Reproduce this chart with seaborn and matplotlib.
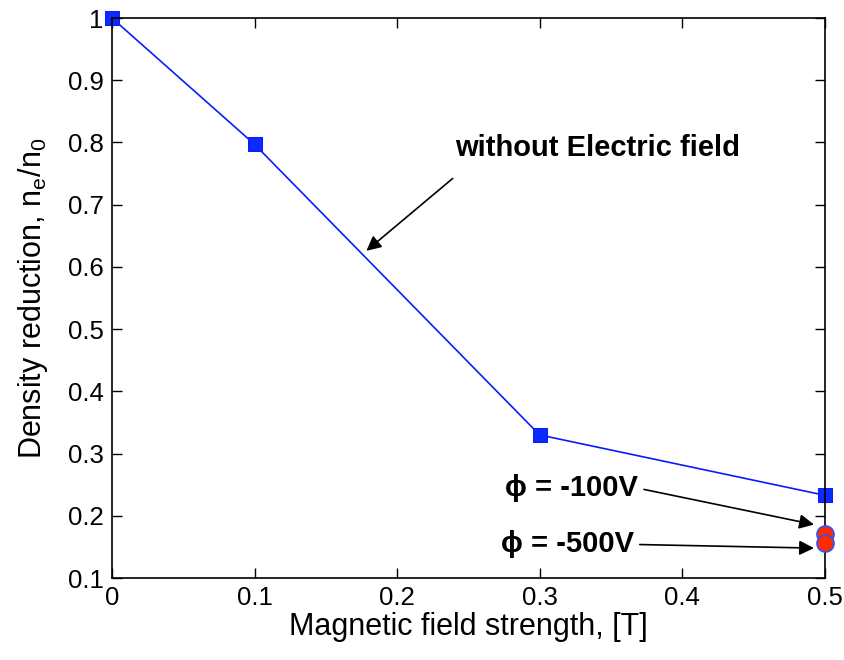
import matplotlib
matplotlib.use("Agg")
import matplotlib.pyplot as plt
import seaborn as sns
import pandas as pd
from matplotlib.ticker import FuncFormatter

B = [0, 0.1, 0.3, 0.5]
density = [1.0, 0.797, 0.33, 0.233]
B_e = [0.5, 0.5]
density_e = [0.171, 0.157]
e_labels = ["\u03d5 = -100V", "\u03d5 = -500V"]
x_ticks = [0, 0.1, 0.2, 0.3, 0.4, 0.5]
y_ticks = [0.1, 0.2, 0.3, 0.4, 0.5, 0.6, 0.7, 0.8, 0.9, 1.0]

sns.set_style("ticks")
plt.rcParams['font.family'] = ['Liberation Sans', 'DejaVu Sans']
plt.rcParams['mathtext.fontset'] = 'custom'
plt.rcParams['mathtext.rm'] = 'Liberation Sans'
plt.rcParams['mathtext.it'] = 'Liberation Sans'
plt.rcParams['text.color'] = 'black'
plt.rcParams['axes.labelcolor'] = 'black'
plt.rcParams['xtick.color'] = 'black'
plt.rcParams['ytick.color'] = 'black'

fig = plt.figure(figsize=(8.45, 6.6), dpi=100)
ax = fig.add_axes([0.1325, 0.1242, 0.8435, 0.8485])

df = pd.DataFrame({"B": B, "d": density})
sns.lineplot(data=df, x="B", y="d", ax=ax, color="#0a1cff", lw=1.2,
             marker="s", markersize=10, markeredgecolor="#0a1cff",
             markerfacecolor="#0a2aff")
df2 = pd.DataFrame({"B": B_e, "d": density_e})
sns.scatterplot(data=df2, x="B", y="d", ax=ax, s=150, color="#ff2a00",
                edgecolor="#3050ff", linewidth=1.2, zorder=5, clip_on=False)

ax.set_xlim(0, 0.5)
ax.set_ylim(0.1, 1.0)
ax.set_xticks(x_ticks)
ax.set_yticks(y_ticks)
fmt = FuncFormatter(lambda v, p: "%g" % round(v, 2))
ax.xaxis.set_major_formatter(fmt)
ax.yaxis.set_major_formatter(fmt)
ax.tick_params(direction="in", labelsize=18.5, length=7, width=1,
               top=True, right=True, pad=6)
for s in ax.spines.values():
    s.set_visible(True)
    s.set_linewidth(1.2)
    s.set_color("black")
for l in ax.get_lines():
    l.set_clip_on(False)

ax.set_xlabel("Magnetic field strength, [T]", fontsize=22, labelpad=1)
ax.set_ylabel(r"Density reduction, n$_\mathregular{e}$/n$_\mathregular{0}$", fontsize=22, labelpad=13)

ap = dict(arrowstyle="-|>", color="black", lw=1.2, mutation_scale=22)
ax.text(0.2404, 0.791, "without Electric field", fontsize=21, fontweight="bold",
        ha="left", va="center")
ax.annotate("", xy=(0.177, 0.623), xytext=(0.2405, 0.745), arrowprops=ap)
ax.annotate(e_labels[0], xy=(0.4944, 0.185), xytext=(0.369, 0.2444),
            fontsize=21, fontweight="bold", ha="right", va="center",
            arrowprops=dict(ap, relpos=(1, 0.5)))
ax.annotate(e_labels[1], xy=(0.4944, 0.148), xytext=(0.366, 0.154),
            fontsize=21, fontweight="bold", ha="right", va="center",
            arrowprops=dict(ap, relpos=(1, 0.5)))

fig.savefig("out.png", dpi=100)
